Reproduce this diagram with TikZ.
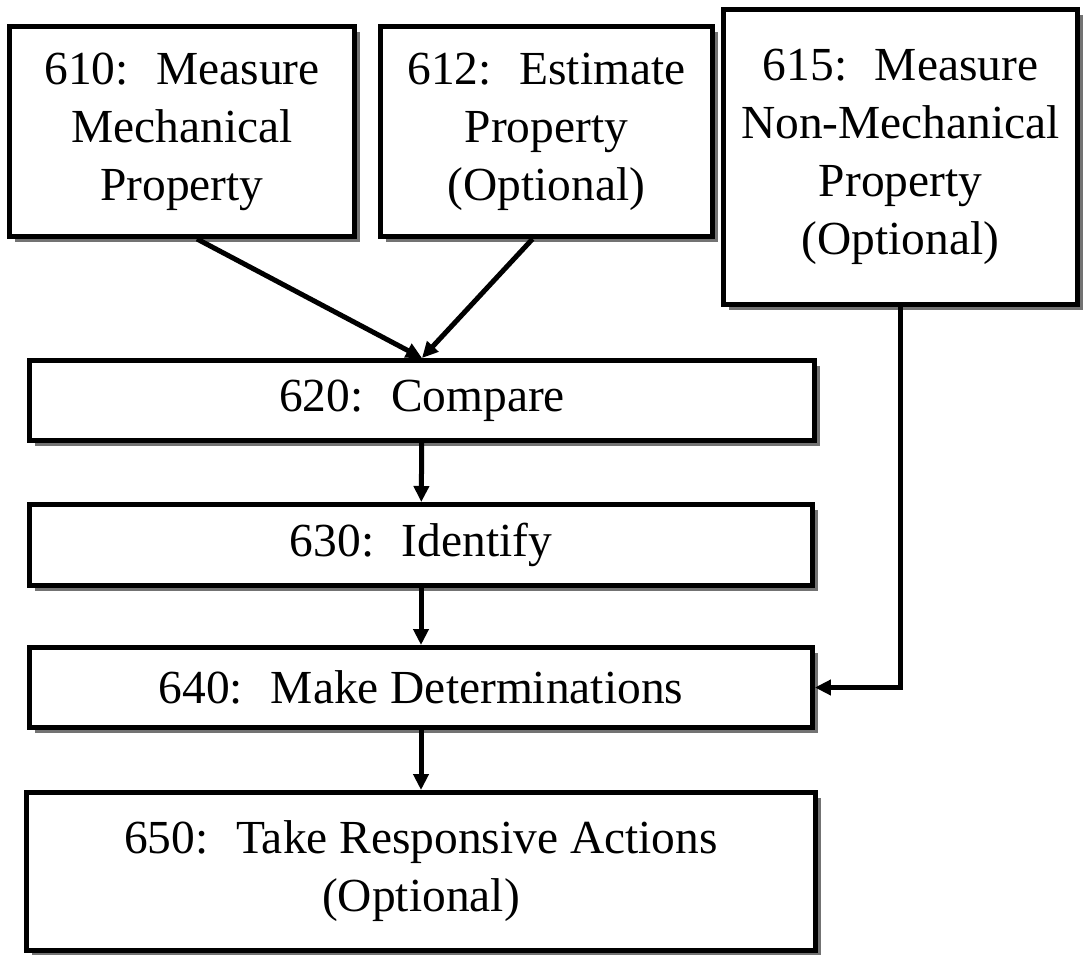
\documentclass[tikz,border=0pt]{standalone}
\usepackage{fontspec}
\setmainfont{Liberation Serif}
\usetikzlibrary{arrows.meta,shadows}

\tikzset{
  stepbox/.style={draw, line width=0.1cm, fill=white, align=center, inner sep=0pt,
    font=\fontsize{27}{33}\selectfont,
    drop shadow={shadow xshift=0.11cm, shadow yshift=-0.11cm, fill=black!55, opacity=1}},
  flow/.style={line width=0.1cm, -{Triangle[length=0.32cm,width=0.3cm]}}
}

\begin{document}
\begin{tikzpicture}[x=0.02cm,y=-0.02cm]
  \useasboundingbox (0,0) rectangle (1084,955);

  % Measurements
  \node[stepbox, minimum width=6.9cm, minimum height=4.2cm] (measure) at (182,131.5)
    {610:~ Measure\\Mechanical\\Property};
  \node[stepbox, minimum width=6.64cm, minimum height=4.2cm] (estimate) at (546.5,131.5)
    {612:~ Estimate\\Property\\(Optional)};
  \node[stepbox, minimum width=7.08cm, minimum height=5.9cm] (nonmech) at (900.5,157)
    {615:~ Measure\\Non-Mechanical\\Property\\(Optional)};

  % Main steps
  \node[stepbox, minimum width=15.7cm, minimum height=1.6cm] (compare) at (422,400.5)
    {620:~ Compare};
  \node[stepbox, minimum width=15.66cm, minimum height=1.62cm] (identify) at (421,545)
    {630:~ Identify};
  \node[stepbox, minimum width=15.66cm, minimum height=1.6cm] (determine) at (421,687.5)
    {640:~ Make Determinations};
  \node[stepbox, minimum width=15.78cm, minimum height=3.16cm] (respond) at (421,871.5)
    {650:~ Take Responsive Actions\\(Optional)};

  % Connectors
  \draw[flow] ([xshift=0.3cm]measure.south) -- (compare.north);
  \draw[flow] ([xshift=-0.28cm]estimate.south) -- (compare.north);
  \draw[flow] (compare) -- (identify);
  \draw[flow] (identify) -- (determine);
  \draw[flow] (determine) -- (respond);
  \draw[flow] (nonmech.south) |- (determine.east);
\end{tikzpicture}
\end{document}
